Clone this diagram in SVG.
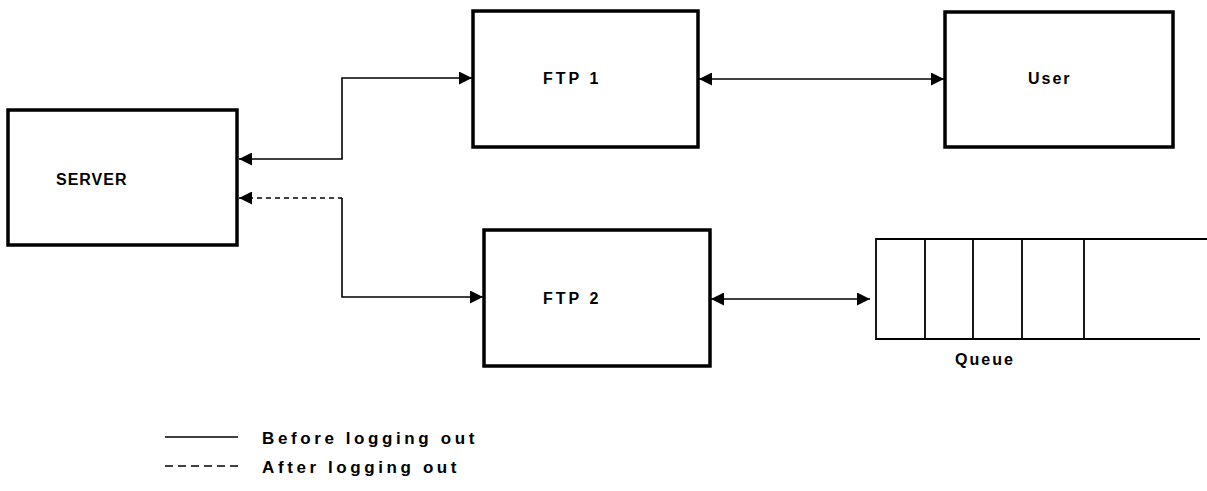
<svg xmlns="http://www.w3.org/2000/svg" width="1207" height="491" viewBox="0 0 1207 491">
<style>
.box{fill:#fff;stroke:#000;stroke-width:3.5}
.q{fill:none;stroke:#000;stroke-width:1.8}
.c{fill:none;stroke:#000;stroke-width:1.6}
.d{stroke-dasharray:5 4}
.ld{stroke-dasharray:8 5}
text{font-family:"Liberation Sans",Arial,sans-serif;font-weight:bold;font-size:16px;letter-spacing:2px;fill:#000}
.lg{font-size:17px;letter-spacing:3.6px}
</style>
<defs>
<marker id="ah" viewBox="0 0 10 10" refX="10" refY="5" markerWidth="13" markerHeight="13" markerUnits="userSpaceOnUse" orient="auto-start-reverse">
<path d="M0,0 L10,5 L0,10 z" fill="#000"/>
</marker>
</defs>
<g id="server"><rect class="box" x="8" y="110" width="229" height="135"/><text x="56" y="185" style="letter-spacing:1px">SERVER</text></g>
<g id="ftp1"><rect class="box" x="473" y="11" width="225" height="136"/><text x="543" y="84" style="letter-spacing:3px">FTP 1</text></g>
<g id="user"><rect class="box" x="945" y="12" width="228" height="135"/><text x="1028" y="84">User</text></g>
<g id="ftp2"><rect class="box" x="484" y="230" width="226" height="136"/><text x="543" y="304" style="letter-spacing:3px">FTP 2</text></g>
<g id="queue">
<path class="q" d="M1207,239 H876 V339 H1200"/>
<path class="q" d="M925,239 V339 M973,239 V339 M1022,239 V339 M1084,239 V339"/>
<text x="985" y="365" text-anchor="middle">Queue</text>
</g>
<g id="connectors">
<path class="c" d="M239,159 H342 V78 H472" marker-start="url(#ah)" marker-end="url(#ah)"/>
<path class="c d" d="M239,198 H342" marker-start="url(#ah)"/>
<path class="c" d="M342,198 V297 H483" marker-end="url(#ah)"/>
<path class="c" d="M699,79 H944" marker-start="url(#ah)" marker-end="url(#ah)"/>
<path class="c" d="M711,299 H870" marker-start="url(#ah)" marker-end="url(#ah)"/>
</g>
<g id="legend">
<path class="c" d="M165,437 H238"/>
<text class="lg" x="262" y="444">Before logging out</text>
<path class="c ld" d="M165,466 H238"/>
<text class="lg" x="262" y="473">After logging out</text>
</g>
</svg>
